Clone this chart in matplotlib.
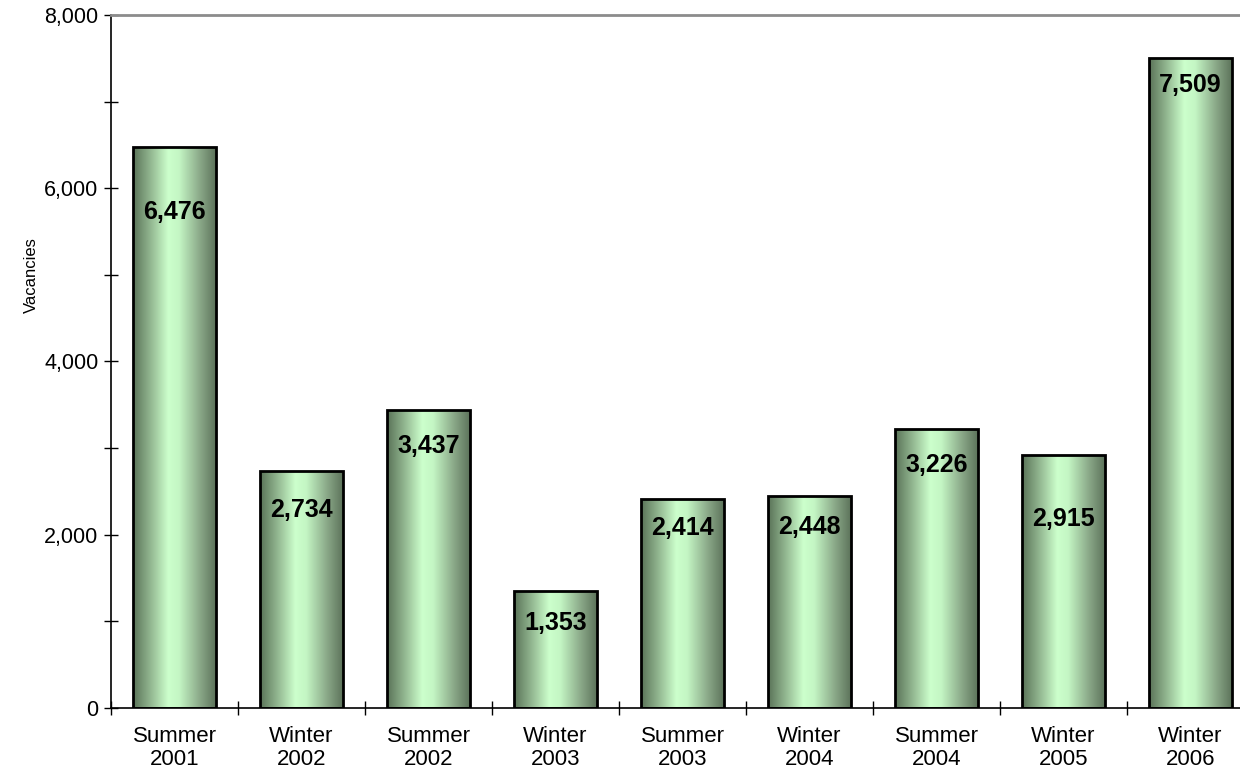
import numpy as np
import matplotlib.pyplot as plt
from matplotlib.colors import LinearSegmentedColormap
from matplotlib.ticker import FuncFormatter, MultipleLocator

plt.rcParams['font.family'] = ['Liberation Sans', 'DejaVu Sans']

seasons = ["Summer\n2001", "Winter\n2002", "Summer\n2002", "Winter\n2003", "Summer\n2003",
           "Winter\n2004", "Summer\n2004", "Winter\n2005", "Winter\n2006"]
vacancies = [6476, 2734, 3437, 1353, 2414, 2448, 3226, 2915, 7509]
# where the value labels sit (data units)
label_y = [5729, 2287, 3026, 982, 2079, 2090, 2807, 2183, 7196]

fig = plt.figure(figsize=(12.4, 7.72), dpi=100)
ax = fig.add_axes([111/1240, 1-708/772, 1143/1240, 693/772])

cmap = LinearSegmentedColormap.from_list("bar", [
    (0.0, "#5a7358"), (0.2, "#90b48e"), (0.42, "#ccffcc"),
    (0.55, "#c4f6c4"), (0.8, "#8aa888"), (1.0, "#5a7058")])
grad = np.linspace(0, 1, 256).reshape(1, -1)

x = np.arange(len(vacancies))
w = 0.66
bars = ax.bar(x, vacancies, width=w, color="none", edgecolor="black", linewidth=2, zorder=3)
for b in bars:
    x0, y0 = b.get_x(), b.get_y()
    im = ax.imshow(grad, cmap=cmap, aspect="auto", zorder=2,
                   extent=[x0, x0 + b.get_width(), y0, y0 + b.get_height()])
    im.set_clip_path(b)

for i, v in enumerate(vacancies):
    ax.text(x[i], label_y[i], f"{v:,}", ha="center", va="center",
            fontsize=18, fontweight="bold", zorder=4)

ax.set_xlim(-0.5, len(vacancies) - 0.5)
ax.set_ylim(0, 8000)
ax.yaxis.set_major_locator(MultipleLocator(2000))
ax.yaxis.set_minor_locator(MultipleLocator(1000))
ax.yaxis.set_major_formatter(FuncFormatter(lambda v, p: f"{int(v):,}"))
ax.set_xticks(x)
ax.set_xticklabels(seasons, fontsize=16, linespacing=1.1)
ax.set_xticks(np.arange(-0.5, len(vacancies), 1), minor=True)
ax.tick_params(axis="x", which="major", length=0, pad=13)
ax.tick_params(axis="x", which="minor", direction="inout", length=10, width=1)
ax.tick_params(axis="y", which="both", direction="inout", length=10, width=1, labelsize=15.5, pad=4)
ax.set_ylabel("Vacancies", fontsize=12)
ax.yaxis.set_label_coords(-0.063, 0.625)

ax.spines["right"].set_visible(False)
ax.spines["top"].set_color("#8c8c8c")
ax.spines["top"].set_linewidth(2)
ax.spines["left"].set_linewidth(1.2)
ax.spines["bottom"].set_linewidth(1.2)

fig.savefig("out.png", dpi=100)
